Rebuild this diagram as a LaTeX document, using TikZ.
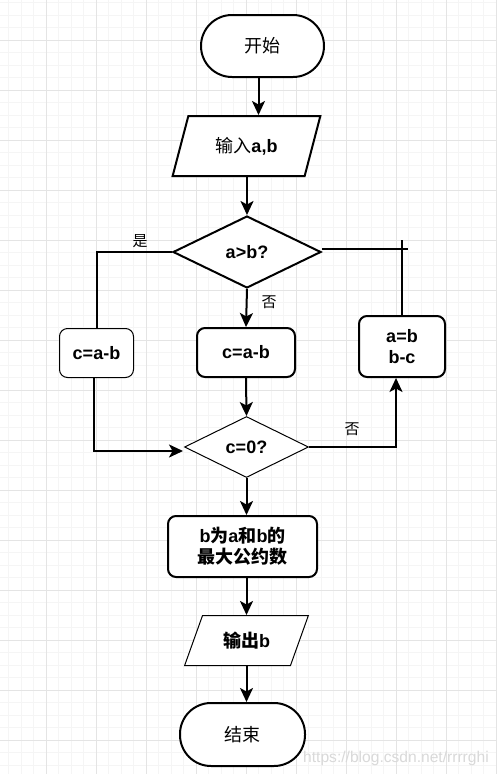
\documentclass[tikz,border=0pt]{standalone}
\usepackage{fontspec}
\setmainfont{Liberation Sans}
\newfontfamily\cjk{Noto Sans CJK SC}
\usetikzlibrary{shapes.geometric,arrows.meta,calc}
\definecolor{gminor}{HTML}{F5F5F5}
\definecolor{gmajor}{HTML}{E4E4E4}
\newcommand\zhs[1]{{\cjk\fontsize{18}{21}\selectfont #1}}
\begin{document}
\begin{tikzpicture}[x=1pt,y=-1pt,
  minorgrid/.style={draw=gminor,line width=1pt},
  majorgrid/.style={draw=gmajor,line width=1pt},
  thickln/.style={line width=2pt},
  thinln/.style={line width=1pt},
  txt/.style={font=\fontsize{18}{21}\selectfont\bfseries, align=center},
  term/.style={draw, fill=white, thickln, rounded corners=31pt, inner sep=0pt,
    font=\cjk\fontsize{18}{21}\selectfont},
  boxbase/.style={draw, fill=white, rounded corners=8pt, txt, inner sep=1pt},
  parabase/.style={draw, fill=white, trapezium, trapezium stretches=true, txt, inner sep=0pt},
  diabase/.style={draw, fill=white, diamond, txt, inner sep=0pt},
  conn/.style={line width=2pt},
  arr/.style={line width=2pt, -{Stealth[length=14pt,width=13pt,inset=3.5pt]}},
  lbl/.style={font=\cjk\fontsize{15}{15}\selectfont, inner sep=0pt}
]
\useasboundingbox (0,0) rectangle (497,774);
\fill[white] (0,0) rectangle (497,774);
% grid
\foreach \x in {8.5,21,...,497} \draw[minorgrid] (\x,0) -- (\x,774);
\foreach \y in {2.5,15,...,774} \draw[minorgrid] (0,\y) -- (497,\y);
\foreach \x in {46,96,...,496} \draw[majorgrid] (\x,0) -- (\x,774);
\foreach \y in {40,90,...,740} \draw[majorgrid] (0,\y) -- (497,\y);

% nodes
\node[term, minimum width=123pt, minimum height=62pt] (start) at (262.5,46) {开始};
\node[parabase, thickln, trapezium left angle=65, trapezium right angle=115,
  minimum width=149pt, minimum height=60pt] (in1) at (246.5,146) {\zhs{\mdseries 输入}a,b};
\node[diabase, thickln, minimum width=148pt, minimum height=72pt] (d1) at (247,252) {a>b?};
\node[boxbase, thinln, minimum width=74pt, minimum height=49pt] (lbox) at (96.5,353) {c=a-b};
\node[boxbase, thickln, minimum width=98pt, minimum height=49pt] (mbox) at (246,352.5) {c=a-b};
\node[boxbase, thickln, minimum width=86pt, minimum height=61pt] (rbox) at (402,346.5) {a=b\\b-c};
\node[diabase, thinln, minimum width=124pt, minimum height=61pt] (d2) at (246.5,447) {c=0?};
\node[boxbase, thickln, minimum width=149pt, minimum height=61pt] (res) at (242.5,546.5)
  {b\zhs{为}a\zhs{和}b\zhs{的}\\\zhs{最大公约数}};
\node[parabase, thinln, trapezium left angle=61, trapezium right angle=119,
  minimum width=124pt, minimum height=50pt] (out) at (246.5,640.5) {\zhs{输出}b};
\node[term, minimum width=125pt, minimum height=63pt] (end) at (242.5,734.5) {结束};

% labels
\node[lbl] (yes1) at (140,241) {是};
\node[lbl] (no1) at (269,302) {否};
\node[lbl] (no2) at (352,429) {否};

% connectors
\coordinate (a1) at ($(start.south)+(-4,0)$);
\draw[arr] (a1) -- (a1 |- in1.north);
\draw[arr] (d1.north |- in1.south) -- (d1.north);
\draw[conn] (d1.west) -| (lbox.north);
\draw[arr] (d1.south) -- (mbox.north);
\coordinate (c5) at ($(lbox.south)+(-3,0)$);
\coordinate (c5b) at ($(d2.west)+(-1,4)$);
\draw[arr] (c5) |- (c5b);
\draw[arr] (mbox.south) -- (d2.north);
\coordinate (c7) at ($(rbox.south)+(-6,0)$);
\draw[arr] (d2.east) -| (c7);
\coordinate (j) at (402,249);
\draw[conn] (rbox.north) -- ($(j)+(0,-9)$);
\draw[conn] (d1.east |- j) -- ($(j)+(6,0)$);
\draw[arr] (d2.south) -- (d2.south |- res.north);
\draw[arr] (out.north |- res.south) -- (out.north);
\draw[arr] (out.south) -- (out.south |- end.north);

% watermark
\node[font=\fontsize{15.6}{16}\selectfont, text=gray!30, anchor=base west, inner sep=0pt] (wm)
  at (303,762) {https://blog.csdn.net/rrrrghi};
\end{tikzpicture}
\end{document}
